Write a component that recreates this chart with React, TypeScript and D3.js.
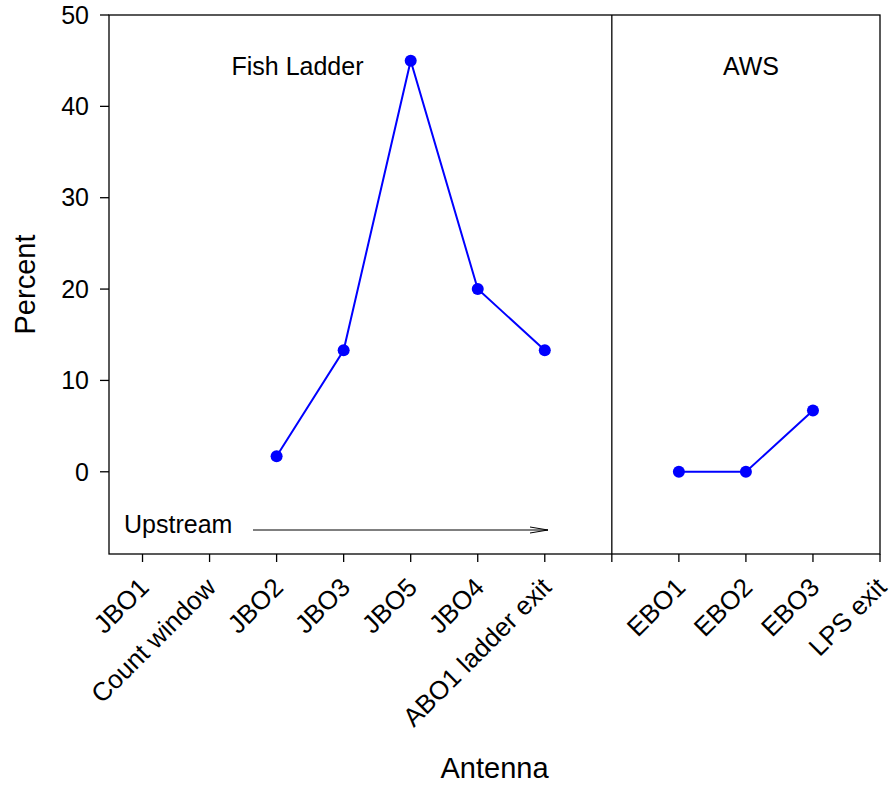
import React from "react";
import * as d3 from "d3";

const categories = ["JBO1", "Count window", "JBO2", "JBO3", "JBO5", "JBO4", "ABO1 ladder exit", "", "EBO1", "EBO2", "EBO3", "LPS exit"];
const ladderCats = ["JBO2", "JBO3", "JBO5", "JBO4", "ABO1 ladder exit"];
const ladderValues = [1.7, 13.3, 45, 20, 13.3];
const awsCats = ["EBO1", "EBO2", "EBO3"];
const awsValues = [0, 0, 6.7];
const yTicks = [0, 10, 20, 30, 40, 50];

const W = 891, H = 786;
const L = 109, R = 880, T = 15, B = 554;
const FONT = "Arial, 'Liberation Sans', sans-serif";

export default function App() {
  const x = d3.scaleLinear().domain([-0.5, 11]).range([L, R]);
  const y = d3.scaleLinear().domain([-9, 50]).range([B, T]);
  const xi = (c: string) => x(categories.indexOf(c));
  const line = d3.line<[string, number]>().x(d => xi(d[0])).y(d => y(d[1]));
  const ladder: [string, number][] = ladderCats.map((c, i) => [c, ladderValues[i]]);
  const aws: [string, number][] = awsCats.map((c, i) => [c, awsValues[i]]);
  const divX = x(7);
  return (
    <svg width={W} height={H} style={{ position: "absolute", left: 0, top: 0, fontFamily: FONT }}>
      <rect x={0} y={0} width={W} height={H} fill="white" />
      <rect x={L} y={T} width={R - L} height={B - T} fill="none" stroke="black" strokeWidth={1.3} />
      <line x1={divX} x2={divX} y1={T} y2={B} stroke="black" strokeWidth={1.3} />
      {yTicks.map(t => (
        <g key={t}>
          <line x1={L - 9} x2={L} y1={y(t)} y2={y(t)} stroke="black" strokeWidth={1.3} />
          <text x={L - 20} y={y(t)} dy="0.35em" textAnchor="end" fontSize={25}>{t}</text>
        </g>
      ))}
      {categories.map((c, i) => (
        <g key={i}>
          <line x1={x(i)} x2={x(i)} y1={B} y2={B + 8} stroke="black" strokeWidth={1.3} />
          {c && (
            <text transform={`translate(${x(i) + 8},${B + 35}) rotate(-45)`} textAnchor="end" fontSize={26}>{c}</text>
          )}
        </g>
      ))}
      <path d={line(ladder) || ""} fill="none" stroke="#0000ff" strokeWidth={2} />
      <path d={line(aws) || ""} fill="none" stroke="#0000ff" strokeWidth={2} />
      {[...ladder, ...aws].map((d, i) => (
        <circle key={i} cx={xi(d[0])} cy={y(d[1])} r={6} fill="#0000ff" />
      ))}
      <text x={297.5} y={75} textAnchor="middle" fontSize={25}>Fish Ladder</text>
      <text x={751} y={75} textAnchor="middle" fontSize={25}>AWS</text>
      <text x={124} y={533} fontSize={25}>Upstream</text>
      <line x1={253} x2={548} y1={530} y2={530} stroke="black" strokeWidth={1} />
      <path d="M530,527 L548,530 L530,533" fill="none" stroke="black" strokeWidth={1} />
      <text transform={`translate(35,284.5) rotate(-90)`} textAnchor="middle" fontSize={29}>Percent</text>
      <text x={494.5} y={778} textAnchor="middle" fontSize={29}>Antenna</text>
    </svg>
  );
}
